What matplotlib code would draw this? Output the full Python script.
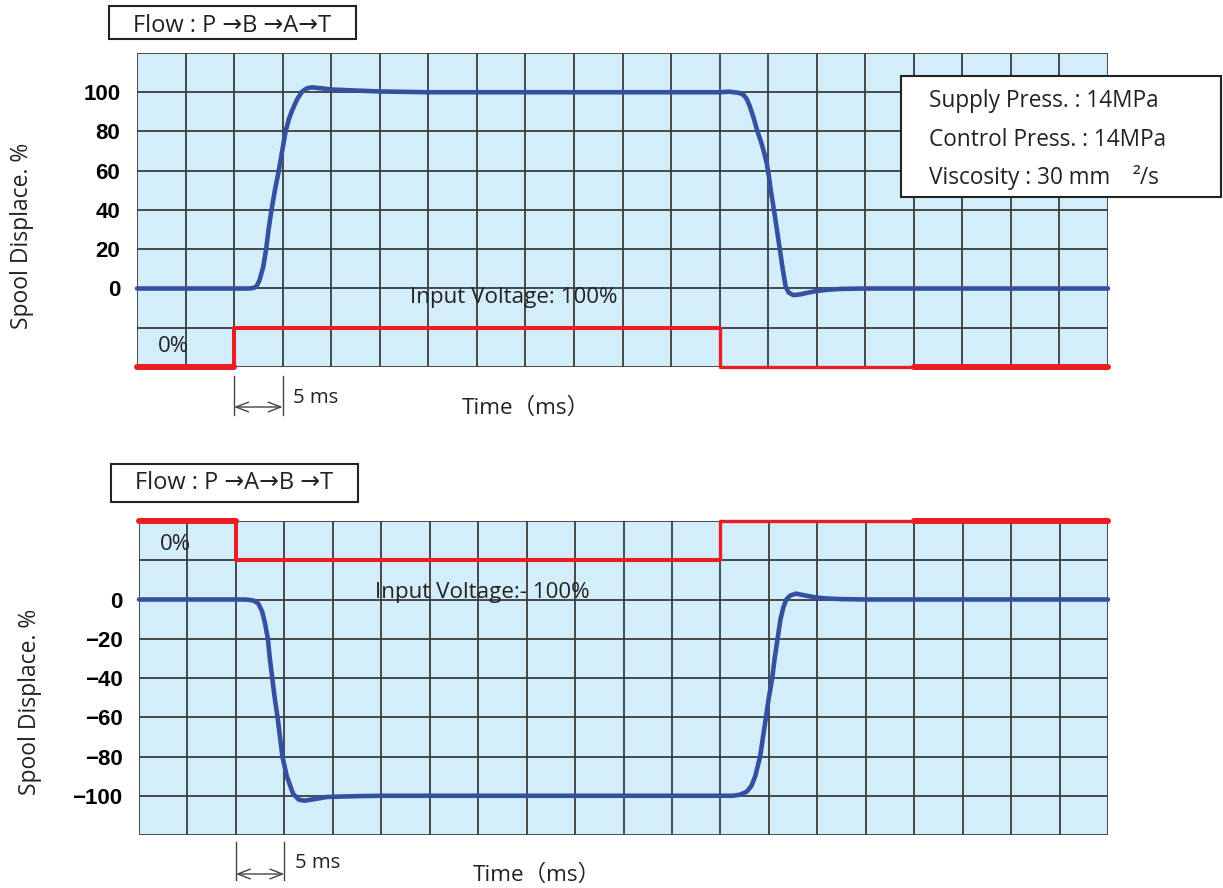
import numpy as np
import matplotlib
matplotlib.use("Agg")
import matplotlib.pyplot as plt
from matplotlib.patches import Rectangle
from matplotlib.lines import Line2D
import matplotlib.transforms as mtrans

# ---- spool response, P->B->A->T (time ms, displacement %)
t_pos = [0, 11.5, 12.0, 12.3, 12.6, 13.0, 13.3, 13.55, 13.85, 14.2, 14.6, 14.95, 15.3,
         15.65, 16.0, 16.5, 17.0, 17.5, 18.0, 19.0, 20.0, 22.4, 25.0, 30.0, 60.0, 61.0,
         61.4, 62.0, 62.5, 62.8, 63.1, 63.5, 63.9, 64.25, 64.6, 64.85, 65.05, 65.3, 65.6,
         65.9, 66.2, 66.5, 66.8, 67.1, 67.6, 68.3, 69.2, 70.0, 71.0, 72.5, 75.0, 100.0]
d_pos = [0, 0, 0.3, 1, 4, 11, 20, 30, 40, 50, 60, 70, 80,
         86.5, 91, 96.5, 100.3, 102, 102.5, 102, 101.4, 100.9, 100.4, 100, 100, 100.3,
         100, 99.7, 98.5, 96.5, 93, 87, 80, 75, 69, 64, 58, 49, 40,
         30, 20, 10, 1, -2, -3.4, -3, -2, -1.3, -0.7, -0.2, 0, 0]

# ---- spool response, P->A->B->T
t_neg = [0, 11.0, 11.8, 12.3, 12.7, 13.0, 13.3, 13.5, 13.75, 14.0, 14.3, 14.55, 14.8,
         15.25, 15.9, 16.5, 17.1, 18.0, 19.4, 22.5, 25.0, 60.0, 61.3, 62.0, 62.7, 63.2,
         63.6, 64.1, 64.4, 64.7, 65.0, 65.35, 65.6, 65.9, 66.2, 66.5, 66.8, 67.2, 67.8,
         68.8, 69.9, 71.0, 72.5, 75.0, 100.0]
d_neg = [0, 0, -0.5, -2, -6, -12, -20, -30, -40, -50, -60, -70, -80,
         -90, -99, -102, -102.5, -101.8, -100.6, -100.2, -100, -100, -100, -99.5, -98, -95,
         -90, -80, -70, -60, -50, -40, -30, -20, -10, -4, 0, 2, 3,
         2, 1, 0.5, 0.2, 0, 0]

# ---- input voltage steps: interval edges (ms), level (%) and pen width (pt)
v_edges = [0, 10, 60, 80, 100]
v_pos = [0, 100, 0, 0]
v_neg = [0, -100, 0, 0]
v_width = [4.3, 2.9, 2.4, 4.3]

pos_ticks = [0, 20, 40, 60, 80, 100]
neg_ticks = [0, -20, -40, -60, -80, -100]

BG = "#d3edfa"
GRID = "#3c3c3c"
BLUE = "#34509f"
RED = "#ec1c24"
INK = "#222222"
W, H = 1223, 888
TXT = ["Open Sans", "DejaVu Sans"]
CJK = ["Open Sans", "Noto Sans CJK JP"]


def fx(x):
    return x / W


def fy(y):
    return 1 - y / H


fig = plt.figure(figsize=(W / 100, H / 100), dpi=100)


def panel(left, top, right, bottom, ylim, vlim, t, d, levels, ticks):
    ax = fig.add_axes([fx(left), fy(bottom), fx(right) - fx(left), (bottom - top) / H])
    ax.set_facecolor(BG)
    ax.set_xlim(0, 100)
    ax.set_ylim(*ylim)
    # grid, 5 ms by 20 %
    ax.vlines(np.arange(0, 101, 5), ylim[0], ylim[1], color=GRID, lw=1.3, zorder=1)
    ax.hlines(np.arange(ylim[0], ylim[1] + 1, 20), 0, 100, color=GRID, lw=1.3, zorder=1)
    for s in ax.spines.values():
        s.set_visible(False)
    ax.set_xticks([])
    ax.set_yticks(ticks)
    ax.set_yticklabels([str(v).replace("-", "\u2212") for v in ticks],
                       fontfamily="Liberation Sans", fontweight="bold", fontsize=16)
    ax.tick_params(axis="y", length=0, pad=12)
    ax.plot(t, d, color=BLUE, lw=3.3, solid_capstyle="round", solid_joinstyle="round",
            zorder=4, clip_on=False)

    # input voltage on its own scale
    av = ax.twinx()
    av.set_ylim(*vlim)
    av.set_axis_off()
    lc = av.hlines(levels, v_edges[:-1], v_edges[1:], color=RED, linewidths=v_width,
                   zorder=3, clip_on=False)
    lc.set_capstyle("round")
    for i in range(1, len(levels)):
        if levels[i] != levels[i - 1]:
            av.vlines(v_edges[i], levels[i - 1], levels[i], color=RED,
                      lw=min(v_width[i - 1], v_width[i]), zorder=3, clip_on=False)
    return ax


ax1 = panel(137, 53, 1108, 367, (-40, 120), (0, 800), t_pos, d_pos, v_pos, pos_ticks)
ax2 = panel(139, 521, 1108, 835, (-120, 40), (-800, 0), t_neg, d_neg, v_neg, neg_ticks)

# flow boxes
for (x0, y0, x1, y1), txt, base in [((109, 6, 356, 39), "Flow : P \u2192B \u2192A\u2192T", 32),
                                    ((111, 464, 358, 502), "Flow : P \u2192A\u2192B \u2192T", 489)]:
    fig.add_artist(Rectangle((fx(x0), fy(y1)), fx(x1) - fx(x0), (y1 - y0) / H,
                             transform=fig.transFigure, fc="white", ec=INK, lw=1.5))
    fig.text(fx((x0 + x1) / 2), fy(base), txt, ha="center", va="baseline",
             fontsize=17, family=TXT, color=INK)

# conditions box
fig.add_artist(Rectangle((fx(901), fy(197)), fx(1221) - fx(901), 121 / H,
                         transform=fig.transFigure, fc="white", ec=INK, lw=1.5,
                         zorder=5))
for base, txt in [(107, "Supply Press. : 14MPa"), (146, "Control Press. : 14MPa"),
                  (184, "Viscosity : 30 mm")]:
    fig.text(fx(929), fy(base), txt, fontsize=16.3, family=TXT, va="baseline",
             color=INK, zorder=6)
fig.text(fx(1159), fy(184), "\u00b2/s", fontsize=16.3, family=TXT, va="baseline",
         ha="right", color=INK, zorder=6)

# axis labels
for x, y in [(22, 236), (30, 702)]:
    fig.text(fx(x), fy(y), "Spool Displace. %", rotation=90, ha="center", va="center",
             fontsize=16.5, family=TXT, color=INK)
for x, base in [(526, 414), (537, 881)]:
    fig.text(fx(x), fy(base), "Time\uff08ms\uff09", ha="center", va="baseline",
             fontsize=16.2, family=CJK, color=INK)

# in-plot notes
fig.text(fx(410), fy(303), "Input Voltage: 100%", fontsize=16.1, family=TXT,
         va="baseline", color=INK, zorder=6)
fig.text(fx(375), fy(598), "Input Voltage:- 100%", fontsize=16.1, family=TXT,
         va="baseline", color=INK, zorder=6)
fig.text(fx(158), fy(352), "0%", fontsize=16, family=TXT, va="baseline",
         color=INK, zorder=6)
fig.text(fx(160), fy(550), "0%", fontsize=16, family=TXT, va="baseline",
         color=INK, zorder=6)

# 5 ms scale marks under each panel
for ax, y0, y1, ya, ybase in [(ax1, 376, 415, 407, 403), (ax2, 842, 880, 874, 868)]:
    tr = mtrans.blended_transform_factory(ax.transData, fig.transFigure)
    for t in (10, 15):
        fig.add_artist(Line2D([t, t], [fy(y0), fy(y1)], transform=tr, color="#444444",
                              lw=1.0))
    ax.annotate("", xy=(10, fy(ya)), xytext=(15, fy(ya)), xycoords=tr, textcoords=tr,
                arrowprops=dict(arrowstyle="<->,head_length=0.9,head_width=0.35",
                                color="#444444", lw=1.0, shrinkA=0, shrinkB=0))
    fig.text(ax.transData.transform((16.1, 0))[0] / fig.bbox.width, fy(ybase), "5 ms",
             fontsize=14.6, family=TXT, va="baseline", color=INK)

fig.savefig("out.png", dpi=100)
